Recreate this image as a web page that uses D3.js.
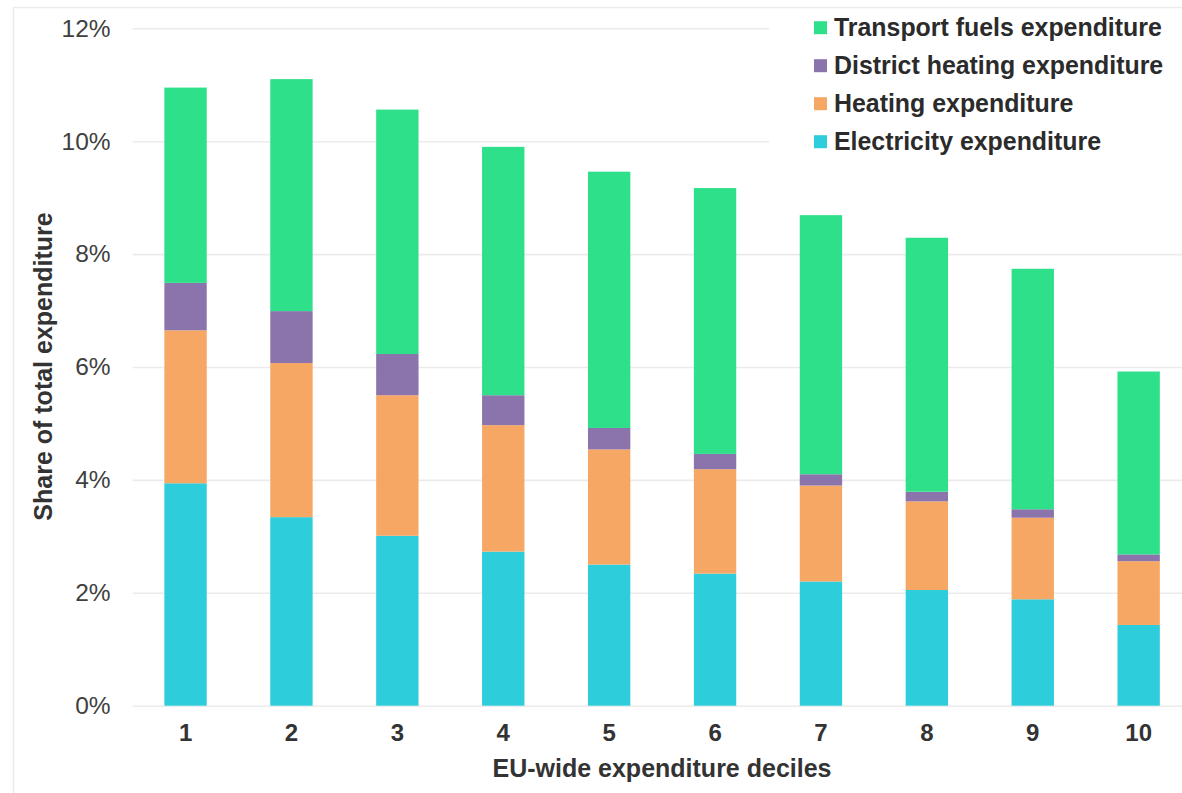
<!DOCTYPE html>
<html>
<head>
<meta charset="utf-8">
<script src="https://cdn.jsdelivr.net/npm/d3@7"></script>
<style>
  html, body { margin: 0; padding: 0; background: #fff; }
  svg { display: block; font-family: "Liberation Sans", Arial, sans-serif; }
</style>
</head>
<body>
<svg id="chart" width="1182" height="793"></svg>
<script>
const deciles = ["1","2","3","4","5","6","7","8","9","10"];
const electricity = [3.94, 3.34, 3.01, 2.73, 2.50, 2.34, 2.20, 2.05, 1.885, 1.43];
const heating     = [2.71, 2.73, 2.49, 2.24, 2.04, 1.85, 1.70, 1.57, 1.445, 1.13];
const district    = [0.84, 0.92, 0.73, 0.53, 0.38, 0.27, 0.20, 0.17, 0.15, 0.12];
const transport   = [3.46, 4.11, 4.33, 4.40, 4.54, 4.71, 4.59, 4.50, 4.26, 3.24];
const seriesNames = ["Electricity expenditure", "Heating expenditure", "District heating expenditure", "Transport fuels expenditure"];
const seriesColors = ["#2ECDDC", "#F7A764", "#8B73AB", "#2FE08B"];
const yTicks = [0, 2, 4, 6, 8, 10, 12];

const svg = d3.select("#chart");

// faint outer frame
svg.append("rect").attr("x", 13.5).attr("y", 7.5).attr("width", 1200).attr("height", 800)
  .attr("fill", "none").attr("stroke", "#ececec").attr("stroke-width", 1.5);

const x = d3.scaleBand().domain(deciles).range([132.6, 1191.6]).paddingInner(0.6).paddingOuter(0.3);
const y = d3.scaleLinear().domain([0, 12]).range([705.7, 28.3]);

const table = deciles.map((d, i) => ({
  decile: d,
  [seriesNames[0]]: electricity[i],
  [seriesNames[1]]: heating[i],
  [seriesNames[2]]: district[i],
  [seriesNames[3]]: transport[i]
}));
const stacked = d3.stack().keys(seriesNames)(table);
const color = d3.scaleOrdinal().domain(seriesNames).range(seriesColors);

// gridlines
const yAxis = d3.axisLeft(y).tickValues(yTicks).tickSize(-(1191.6 - 132.6)).tickFormat(d => d + "%").tickPadding(22);
const gy = svg.append("g").attr("transform", "translate(132.6,0)").call(yAxis);
gy.select(".domain").remove();
gy.selectAll(".tick line").attr("stroke", "#ebebeb").attr("stroke-width", 1.6);
gy.selectAll(".tick text").attr("fill", "#404040").attr("font-size", 24.5).attr("font-weight", "normal");

// legend background (covers top gridlines)
svg.append("rect").attr("x", 769).attr("y", 10).attr("width", 420).attr("height", 150).attr("fill", "#fff");

// bars
svg.append("g").selectAll("g").data(stacked).join("g")
  .attr("fill", d => color(d.key))
  .selectAll("rect").data(d => d).join("rect")
  .attr("x", d => x(d.data.decile))
  .attr("width", x.bandwidth())
  .attr("y", d => y(d[1]))
  .attr("height", d => y(d[0]) - y(d[1]));

// x axis
const xAxis = d3.axisBottom(x).tickSize(0).tickPadding(18);
const gx = svg.append("g").attr("transform", "translate(0,705.7)").call(xAxis);
gx.select(".domain").remove();
gx.selectAll(".tick text").attr("fill", "#333").attr("font-size", 24).attr("font-weight", "bold");

// axis titles
svg.append("text").attr("x", 662).attr("y", 777).attr("text-anchor", "middle")
  .attr("font-size", 25).attr("font-weight", "bold").attr("fill", "#333")
  .text("EU-wide expenditure deciles");
svg.append("text").attr("transform", "translate(52,366.5) rotate(-90)").attr("text-anchor", "middle")
  .attr("font-size", 25).attr("font-weight", "bold").attr("fill", "#333")
  .text("Share of total expenditure");

// legend
const legendOrder = seriesNames.slice().reverse();
const lg = svg.append("g").selectAll("g").data(legendOrder).join("g")
  .attr("transform", (d, i) => `translate(814,${27.7 + i * 38})`);
lg.append("rect").attr("x", 0).attr("y", -6.5).attr("width", 13).attr("height", 13).attr("fill", d => color(d));
lg.append("text").attr("x", 20).attr("y", 0).attr("dy", "0.35em")
  .attr("font-size", 24.9).attr("font-weight", "bold").attr("fill", "#2b2b2b")
  .text(d => d);
</script>
</body>
</html>
